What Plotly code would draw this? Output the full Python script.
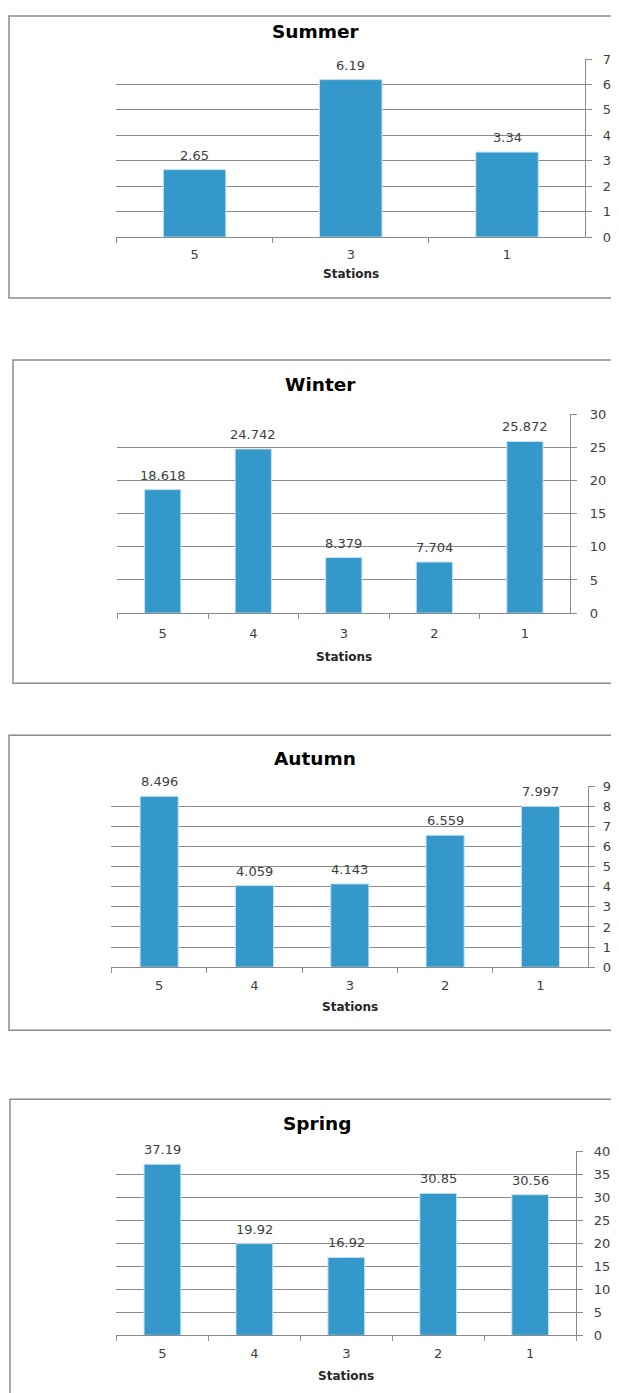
import plotly.graph_objects as go

W, H = 603, 1393

# ---- data ----
summer_stations = ["5", "3", "1"]
summer_values = [2.65, 6.19, 3.34]

winter_stations = ["5", "4", "3", "2", "1"]
winter_values = [18.618, 24.742, 8.379, 7.704, 25.872]

autumn_stations = ["5", "4", "3", "2", "1"]
autumn_values = [8.496, 4.059, 4.143, 6.559, 7.997]

spring_stations = ["5", "4", "3", "2", "1"]
spring_values = [37.19, 19.92, 16.92, 30.85, 30.56]

titles = ["Summer", "Winter", "Autumn", "Spring"]
y_max = [7, 30, 9, 40]
y_step = [1, 5, 1, 5]
x_title = "Stations"

# ---- layout (pixel geometry in the 619x1393 picture) ----
plot_px = [  # left, right, top, bottom
    (117, 588, 59, 237),
    (118, 573, 414, 613),
    (112, 591, 786, 967),
    (117, 579, 1151, 1335),
]
box_px = [  # x0, x1, y0, y1
    (9, 660, 16, 298),
    (13, 617, 360, 683),
    (9, 660, 735, 1030),
    (10, 660, 1099, 1460),
]
title_x = [318, 322, 317, 319]
title_y = [31, 384, 758, 1123]
xtitle_y = [274, 657, 1007, 1376]
xlabel_standoff = [5, 8, 6, 6]
ylabel_standoff = [8, 10, 5, 8]

panels = [
    (summer_stations, summer_values),
    (winter_stations, winter_values),
    (autumn_stations, autumn_values),
    (spring_stations, spring_values),
]

BAR = "#3498cb"
GRID = "#8a8a8a"
TXT = "#404040"
FONT = "DejaVu Sans"

fig = go.Figure()

# page -> figure pixel mapping (body margin / capture offset)
X_OFF = 8
Y_OFF, Y_SCALE = 15, 0.989


def px_x(x):
    return (x - X_OFF) / W


def px_y(y):
    return 1 - ((y - Y_OFF) / Y_SCALE) / H


layout = dict(
    width=W, height=H, margin=dict(l=0, r=0, t=0, b=0),
    paper_bgcolor="white", plot_bgcolor="white",
    showlegend=False, bargap=0.6,
    font=dict(family=FONT, size=13, color=TXT),
)
shapes = []
annotations = []

for i, ((cats, vals), (l, r, t, b)) in enumerate(zip(panels, plot_px)):
    n = i + 1
    xa = "x" if n == 1 else f"x{n}"
    ya = "y" if n == 1 else f"y{n}"
    fig.add_trace(go.Bar(
        x=cats, y=vals, xaxis=xa, yaxis=ya,
        marker=dict(color=BAR, line=dict(color="#c4e2f3", width=1)),
        cliponaxis=False,
    ))
    for j, v in enumerate(vals):
        annotations.append(dict(
            text=str(v), x=j, y=v, xref=xa, yref=ya,
            xanchor="center", yanchor="bottom", yshift=5,
            showarrow=False, font=dict(family=FONT, size=13, color=TXT),
        ))
    xkey = "xaxis" if n == 1 else f"xaxis{n}"
    ykey = "yaxis" if n == 1 else f"yaxis{n}"
    layout[xkey] = dict(
        domain=[px_x(l), px_x(r)], anchor=ya, type="category",
        showline=True, linecolor=GRID, linewidth=1,
        ticks="outside", ticklen=5, tickcolor=GRID, tickson="boundaries",
        ticklabelstandoff=xlabel_standoff[i],
        showgrid=False, tickfont=dict(family=FONT, size=13, color=TXT),
        fixedrange=True,
    )
    layout[ykey] = dict(
        domain=[px_y(b), px_y(t)], anchor=xa, side="right",
        range=[0, y_max[i]], dtick=y_step[i], tick0=0,
        showline=True, linecolor=GRID, linewidth=1,
        ticks="outside", ticklen=6, tickcolor=GRID,
        ticklabelstandoff=ylabel_standoff[i],
        showgrid=True, gridcolor=GRID, gridwidth=1, zeroline=False,
        tickfont=dict(family=FONT, size=13, color=TXT),
        fixedrange=True,
    )
    x0, x1, y0, y1 = box_px[i]
    shapes.append(dict(
        type="rect", xref="paper", yref="paper",
        x0=px_x(x0), x1=px_x(x1), y0=px_y(y1), y1=px_y(y0),
        line=dict(color="#8c8c8c", width=1.5), layer="below",
    ))
    annotations.append(dict(
        text=f"<b>{titles[i]}</b>", xref="paper", yref="paper",
        x=px_x(title_x[i]), y=px_y(title_y[i]), xanchor="center", yanchor="middle",
        showarrow=False, font=dict(family=FONT, size=18.5, color="#000000"),
    ))
    annotations.append(dict(
        text=f"<b>{x_title}</b>", xref="paper", yref="paper",
        x=px_x((l + r) / 2), y=px_y(xtitle_y[i]), xanchor="center", yanchor="middle",
        showarrow=False, font=dict(family=FONT, size=12, color="#262626"),
    ))

layout["shapes"] = shapes
layout["annotations"] = annotations
fig.update_layout(**layout)
fig.write_html("out.html")
